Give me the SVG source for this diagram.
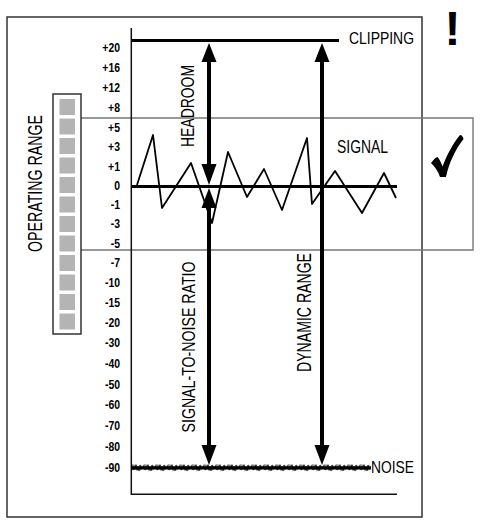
<svg xmlns="http://www.w3.org/2000/svg" width="481" height="526" viewBox="0 0 481 526">
<style>
text{font-family:"Liberation Sans",Arial,sans-serif;fill:#000}
.scale text{font-size:12px;font-weight:bold;text-anchor:end}
.frame{fill:none;stroke:#333;stroke-width:1.5}
.op{fill:none;stroke:#777;stroke-width:1.4}
.thin{stroke:#111;stroke-width:1.5;fill:none}
.thick{stroke:#000;stroke-width:3;fill:none}
.shaft{stroke:#000;stroke-width:4;fill:none}
.head{fill:#000}
.seg{fill:#b4b4b4}
</style>
<defs>
<pattern id="noisePat" patternUnits="userSpaceOnUse" x="131" y="462" width="12" height="12">
<path d="M0,6 L1,3.5 L2,8 L3,4 L4,7.5 L5,2.5 L6,8.5 L7,4 L8,9 L9,3 L10,7 L11,4.5 L12,6" fill="none" stroke="#000" stroke-width="1.1"/>
</pattern>
</defs>

<g id="frame">
<rect class="frame" x="7" y="17" width="415" height="500"/>
</g>

<g id="operating-range">
<path class="op" d="M81,118 H473 V250 H81"/>
<rect x="53" y="94" width="28" height="240" fill="#fff" stroke="#333" stroke-width="1.5"/>
<rect class="seg" x="59.5" y="99" width="15.5" height="16"/>
<rect class="seg" x="59.5" y="118.5" width="15.5" height="16"/>
<rect class="seg" x="59.5" y="138" width="15.5" height="16"/>
<rect class="seg" x="59.5" y="157.5" width="15.5" height="16"/>
<rect class="seg" x="59.5" y="177" width="15.5" height="16"/>
<rect class="seg" x="59.5" y="196.5" width="15.5" height="16"/>
<rect class="seg" x="59.5" y="216" width="15.5" height="16"/>
<rect class="seg" x="59.5" y="235.5" width="15.5" height="16"/>
<rect class="seg" x="59.5" y="255" width="15.5" height="16"/>
<rect class="seg" x="59.5" y="274.5" width="15.5" height="16"/>
<rect class="seg" x="59.5" y="294" width="15.5" height="16"/>
<rect class="seg" x="59.5" y="313.5" width="15.5" height="16"/>
<text transform="translate(42 183.5) rotate(-90)" font-size="20.5" text-anchor="middle" textLength="137" lengthAdjust="spacingAndGlyphs">OPERATING RANGE</text>
</g>

<g id="scale" class="scale" transform="translate(120 0) scale(0.87 1)">
<text x="0" y="52.3">+20</text>
<text x="0" y="72.3">+16</text>
<text x="0" y="92.3">+12</text>
<text x="0" y="112.3">+8</text>
<text x="0" y="132.3">+5</text>
<text x="0" y="151.3">+3</text>
<text x="0" y="171.3">+1</text>
<text x="0" y="190.3">0</text>
<text x="0" y="209.3">-1</text>
<text x="0" y="228.3">-3</text>
<text x="0" y="248.3">-5</text>
<text x="0" y="267.3">-7</text>
<text x="0" y="287.3">-10</text>
<text x="0" y="307.3">-15</text>
<text x="0" y="327.3">-20</text>
<text x="0" y="347.3">-30</text>
<text x="0" y="368.3">-40</text>
<text x="0" y="389.3">-50</text>
<text x="0" y="409.3">-60</text>
<text x="0" y="430.3">-70</text>
<text x="0" y="451.3">-80</text>
<text x="0" y="472.3">-90</text>
</g>

<g id="axes">
<path class="thin" d="M131.3,28 V494.3 H397"/>
</g>

<g id="clipping">
<path class="thick" d="M131,40.5 H339"/>
<text x="349" y="44" font-size="17" textLength="65" lengthAdjust="spacingAndGlyphs">CLIPPING</text>
<text x="452.5" y="45" font-size="48" font-weight="bold" text-anchor="middle">!</text>
</g>

<g id="signal">
<path d="M137,185 L153,135 L162,208 L191,163 L212,223 L228,152 L247,197 L264,169 L282,210 L307,138 L312,204 L335,171 L362,213 L384,173 L396,198" fill="none" stroke="#000" stroke-width="1.8" stroke-linejoin="round"/>
<path class="thick" d="M131,186.5 H397"/>
<text x="337" y="153" font-size="18" textLength="51" lengthAdjust="spacingAndGlyphs">SIGNAL</text>
<path d="M431,163 C434,159 436,157 437.5,157 C439.5,159 441,162.5 442.5,166.5 C447,155 453,143 460,135 C462,135 463,137 463.5,139 C455,150 449,163 446,177 L440,177 C438,171 435,167 431,163 Z" fill="#000"/>
</g>

<g id="noise">
<rect x="131" y="466.5" width="240" height="3" fill="#000"/>
<rect x="131" y="462" width="240" height="12" fill="url(#noisePat)"/>
<text x="371" y="473" font-size="17" textLength="43" lengthAdjust="spacingAndGlyphs">NOISE</text>
</g>

<g id="connectors">
<g id="headroom-arrow">
<path class="shaft" d="M209,60 V166"/>
<polygon class="head" points="209,43 201.5,62 216.5,62"/>
<polygon class="head" points="209,185 201.5,164 216.5,164"/>
</g>
<g id="snr-arrow">
<path class="shaft" d="M209,206 V447"/>
<polygon class="head" points="209,188 201.5,208 216.5,208"/>
<polygon class="head" points="209,465 201.5,445 216.5,445"/>
</g>
<g id="dynamic-arrow">
<path class="shaft" d="M322,60 V447"/>
<polygon class="head" points="322,43 314.5,62 329.5,62"/>
<polygon class="head" points="322,465 314.5,445 329.5,445"/>
</g>
</g>

<g id="arrow-labels">
<text transform="translate(193.5 106) rotate(-90)" font-size="18.5" text-anchor="middle" textLength="82" lengthAdjust="spacingAndGlyphs">HEADROOM</text>
<text transform="translate(195 347) rotate(-90)" font-size="18.5" text-anchor="middle" textLength="171" lengthAdjust="spacingAndGlyphs">SIGNAL-TO-NOISE RATIO</text>
<text transform="translate(311 312.5) rotate(-90)" font-size="20.5" text-anchor="middle" textLength="119" lengthAdjust="spacingAndGlyphs">DYNAMIC RANGE</text>
</g>
</svg>
